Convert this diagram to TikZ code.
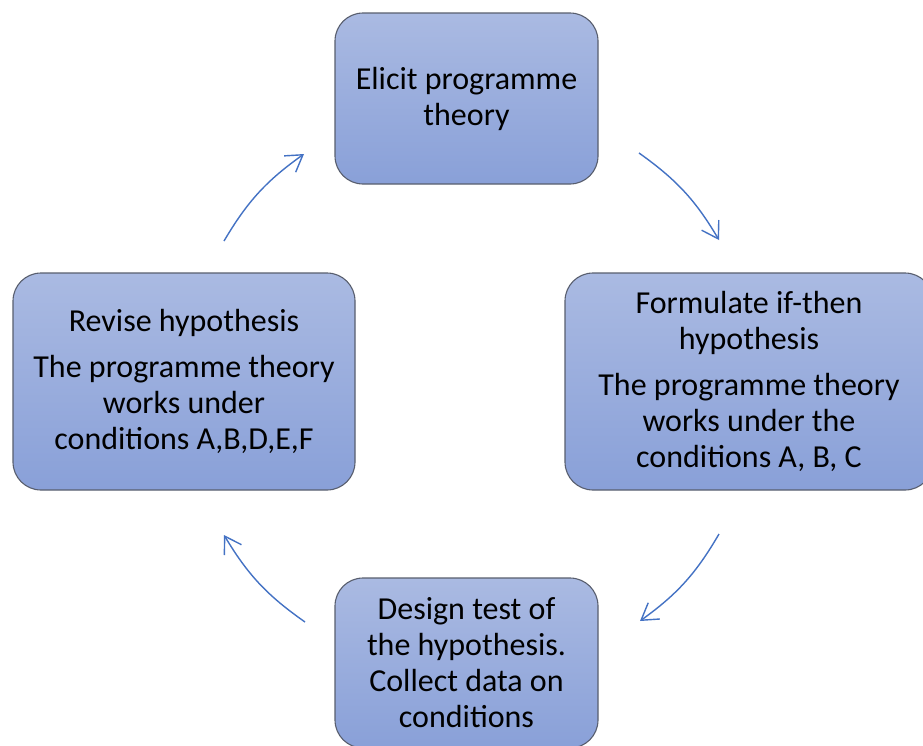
\documentclass[tikz,border=0pt]{standalone}
\usepackage{fontspec}
\setmainfont{Carlito}
\usetikzlibrary{arrows.meta}
\definecolor{boxtop}{RGB}{170,186,226}
\definecolor{boxbot}{RGB}{137,160,216}
\definecolor{boxedge}{RGB}{88,94,110}
\definecolor{arrowblue}{RGB}{68,114,196}
\tikzset{
  stagebox/.style={rectangle, rounded corners=28pt, draw=boxedge, line width=1.1pt,
    top color=boxtop, bottom color=boxbot, align=center, inner sep=0pt,
    font=\fontsize{32}{36}\selectfont, text=black},
  cyclearrow/.style={draw=arrowblue, line width=1.4pt,
    -{Straight Barb[length=16pt,width=20pt,line width=1.4pt]}},
}
\begin{document}
\begin{tikzpicture}[x=1pt,y=-1pt]
\path[use as bounding box, clip] (0,0) rectangle (923,745);
\fill[white] (0,0) rectangle (923,745);

\node[stagebox, minimum width=263pt, minimum height=171pt] (elicit) at (466.5,98.5)
  {Elicit programme\\theory};
\node[stagebox, minimum width=368pt, minimum height=217pt] (formulate) at (749,381.5)
  {Formulate if-then\\hypothesis\\[10pt]The programme theory\\works under the\\conditions A, B, C};
\node[stagebox, minimum width=263pt, minimum height=170pt] (design) at (466.5,663)
  {Design test of\\the hypothesis.\\Collect data on\\conditions};
\node[stagebox, minimum width=342pt, minimum height=217pt] (revise) at (184,381.5)
  {Revise hypothesis\\[10pt]The programme theory\\works under\\conditions A,B,D,E,F};

\coordinate (a1s) at (639,153);
\coordinate (a1e) at (719,240);
\coordinate (a2s) at (719,534);
\coordinate (a2e) at (640,621);
\coordinate (a3s) at (305,622);
\coordinate (a3e) at (224,535);
\coordinate (a4s) at (224,241);
\coordinate (a4e) at (304,154);

\draw[cyclearrow] (a1s) to[bend left=12] (a1e);
\draw[cyclearrow] (a2s) to[bend left=12] (a2e);
\draw[cyclearrow] (a3s) to[bend left=12] (a3e);
\draw[cyclearrow] (a4s) to[bend left=12] (a4e);
\end{tikzpicture}
\end{document}
